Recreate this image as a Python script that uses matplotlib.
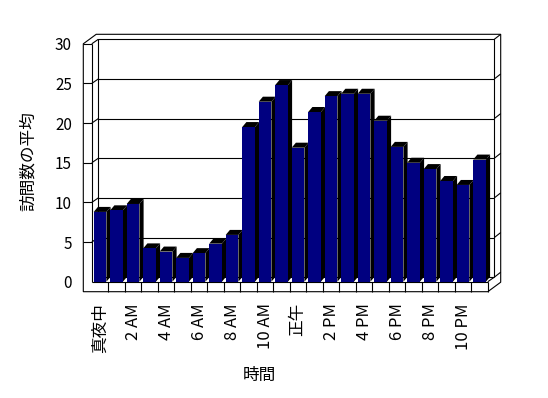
import matplotlib
matplotlib.use("Agg")
import matplotlib.pyplot as plt
from matplotlib.patches import Polygon

plt.rcParams["font.family"] = ["Noto Sans CJK JP", "DejaVu Sans"]

# average visits per hour
hours = ["真夜中", "", "2 AM", "", "4 AM", "", "6 AM", "", "8 AM", "", "10 AM", "",
         "正午", "", "2 PM", "", "4 PM", "", "6 PM", "", "8 PM", "", "10 PM", ""]
visits = [8.8, 9.0, 9.8, 4.2, 3.8, 3.0, 3.6, 4.8, 5.9, 19.5, 22.7, 24.8,
          16.9, 21.4, 23.4, 23.7, 23.7, 20.3, 17.0, 15.0, 14.2, 12.7, 12.2, 15.4]
yticks = [0, 5, 10, 15, 20, 25, 30]

W, H = 548, 398
fig = plt.figure(figsize=(W / 100, H / 100), dpi=100)
fig.patch.set_facecolor("white")

# front plane of the box, in pixels
left_px, right_px, zero_px, top_px = 91.8, 487.8, 281.7, 43.8
ax = fig.add_axes([left_px / W, 1 - zero_px / H,
                   (right_px - left_px) / W, (zero_px - top_px) / H])
n = len(visits)
ax.set_xlim(-0.5, n - 0.5)
ax.set_ylim(0, 30)

# pixel -> data unit sizes
PX_X = (right_px - left_px) / n
PX_Y = (zero_px - top_px) / 30
dx, dy = 6.5 / PX_X, 4.5 / PX_Y      # depth of the box
tx, ty = 6.4 / PX_X, 5.0 / PX_Y      # back wall thickness
tw = 8.5 / PX_X                      # left wall thickness
tf = 10.0 / PX_Y                     # floor thickness
bdx, bdy = 4.2 / PX_X, 5.0 / PX_Y    # bar depth
bw = 0.77

x0, x1 = -0.5, n - 0.5
ymax = 30
lw = 0.8

def line(xs, ys, z=1):
    ax.plot(xs, ys, color="black", lw=lw, clip_on=False, zorder=z,
            solid_capstyle="butt")

# outer silhouette of walls and floor
outline = [(x0 - tw, -tf), (x0 - tw, ymax), (x0 - tw + dx + tx, ymax + dy + ty),
           (x1 + dx + tx, ymax + dy + ty), (x1 + dx + tx, -tf + dy + ty), (x1, -tf)]
ax.add_patch(Polygon(outline, closed=True, facecolor="white", edgecolor="black",
                     lw=lw, clip_on=False, zorder=0.5))

# inner edges
line([x0, x0], [0, ymax])
line([x0 - tw, x0], [ymax, ymax])
line([x0, x0 + dx], [ymax, ymax + dy])
line([x0 + dx, x0 + dx, x1 + dx, x1 + dx], [dy, ymax + dy, ymax + dy, dy])
line([x1 + dx, x1 + dx + tx], [ymax + dy, ymax + dy + ty])
line([x0, x1], [0, 0])
line([x1, x1], [-tf, 0])
line([x1, x1 + dx], [0, dy])
line([x0 + dx, x1 + dx], [dy, dy])
line([x1 + dx, x1 + dx + tx], [dy, dy + ty])
for k in range(1, n):
    line([x0 + k, x0 + k], [-tf, 0])

# gridlines
for v in yticks[1:-1]:
    line([x0 - tw, x0], [v, v])
    line([x0, x0 + dx], [v, v + dy])
    line([x0 + dx, x1 + dx], [v + dy, v + dy])
    line([x1 + dx, x1 + dx + tx], [v + dy, v + dy + ty])

# bars
for i, v in enumerate(visits):
    z = 3 + i * 0.01
    a, b = i - bw / 2, i + bw / 2
    ax.add_patch(Polygon([(b, 0), (b + bdx, bdy), (b + bdx, v + bdy), (b, v)],
                         closed=True, facecolor="black", edgecolor="none",
                         clip_on=False, zorder=z))
    ax.add_patch(Polygon([(a, v), (b, v), (b + bdx, v + bdy), (a + bdx, v + bdy)],
                         closed=True, facecolor="black", edgecolor="none",
                         clip_on=False, zorder=z))
    ax.add_patch(Polygon([(a, 0), (b, 0), (b, v), (a, v)], closed=True,
                         facecolor="#000080", edgecolor="none",
                         clip_on=False, zorder=z + 0.005))

for s in ax.spines.values():
    s.set_visible(False)
ax.set_facecolor("none")
ax.set_xticks(range(n))
ax.set_xticklabels(hours, rotation=90, fontsize=12, va="top")
ax.set_yticks(yticks)
ax.set_yticklabels([str(t) for t in yticks], fontsize=11)
ax.tick_params(axis="x", length=0, pad=15.5)
ax.tick_params(axis="y", length=0, pad=14.3)

ax.set_xlabel("時間", fontsize=12)
ax.xaxis.label.set_va("center")
ax.xaxis.set_label_coords((259 - left_px) / (right_px - left_px),
                          (zero_px - 375) / (zero_px - top_px))
ax.set_ylabel("訪問数の平均", fontsize=12)
ax.yaxis.label.set_va("center")
ax.yaxis.set_label_coords((28 - left_px) / (right_px - left_px),
                          (zero_px - 161) / (zero_px - top_px))

fig.savefig("out.png", dpi=100)
